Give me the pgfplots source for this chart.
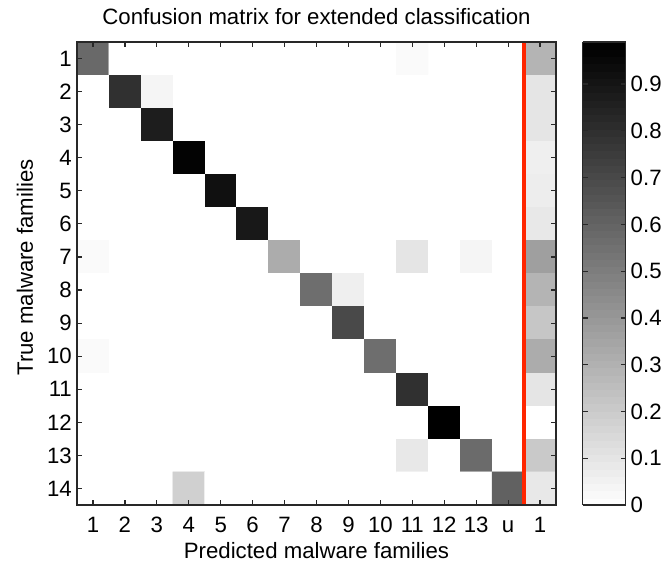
\documentclass[border=0pt]{standalone}
\usepackage{pgfplots}
\pgfplotsset{compat=1.18}
\usepackage{fontspec}
\setmainfont{Liberation Sans}
\definecolor{redline}{RGB}{255,38,0}
\definecolor{frame}{RGB}{40,40,40}
\begin{document}
\begin{tikzpicture}[font=\fontsize{22.2}{26}\selectfont]
\path[use as bounding box] (0,0) rectangle (662pt,562pt);
\begin{axis}[
  at={(77pt,57pt)}, anchor=south west,
  scale only axis, width=479pt, height=463pt,
  xmin=0.5, xmax=15.5, ymin=0.5, ymax=14.5,
  y dir=reverse,
  axis on top,
  enlargelimits=false,
  /pgf/number format/assume math mode=true,
  xtick={1,...,15},
  xticklabels={1,2,3,4,5,6,7,8,9,10,11,12,13,u,1},
  ytick={1,...,14},
  tick align=inside,
  major tick length=5pt,
  axis line style={line width=1.3pt, frame},
  every tick/.style={line width=1.2pt, frame},
  xticklabel style={anchor=base, inner sep=0pt, yshift=-27.5pt},
  yticklabel style={anchor=east, inner sep=0pt, xshift=-5pt},
  title={Confusion matrix for extended classification},
  title style={at={(axis description cs:0.5,1)}, anchor=base, yshift=12pt, inner sep=0pt},
  xlabel={Predicted malware families},
  xlabel style={at={(axis description cs:0.5,0)}, anchor=base, yshift=-53.5pt, inner sep=0pt},
  ylabel={True malware families},
  ylabel style={at={(axis description cs:-0.0919,0.513)}, anchor=base, inner sep=0pt},
  colormap={revgray}{gray(0cm)=(1); gray(1cm)=(0)},
  point meta min=0, point meta max=0.99,
  colorbar sampled,
  colorbar style={
    at={(parent axis.north east)}, anchor=north west, xshift=18pt,
    scale only axis, width=43pt, height=463pt,
    samples=65,
    ytick={0,0.1,0.2,0.3,0.4,0.5,0.6,0.7,0.8,0.9},
    ytick pos=both,
    yticklabel pos=right,
    yticklabel style={anchor=west, inner sep=0pt, xshift=5pt, /pgf/number format/assume math mode=true},
    axis line style={line width=1.2pt, frame},
    every tick/.style={line width=1.2pt, frame},
    major tick length=5pt,
    tick align=inside,
  },
]
\addplot[matrix plot*, mesh/cols=15, point meta=explicit] table[row sep=\\, meta=c] {
x y c \\
1 1 0.58 \\ 2 1 0 \\ 3 1 0 \\ 4 1 0 \\ 5 1 0 \\ 6 1 0 \\ 7 1 0 \\ 8 1 0 \\ 9 1 0 \\ 10 1 0 \\ 11 1 0.02 \\ 12 1 0 \\ 13 1 0 \\ 14 1 0 \\ 15 1 0.29 \\
1 2 0 \\ 2 2 0.80 \\ 3 2 0.04 \\ 4 2 0 \\ 5 2 0 \\ 6 2 0 \\ 7 2 0 \\ 8 2 0 \\ 9 2 0 \\ 10 2 0 \\ 11 2 0 \\ 12 2 0 \\ 13 2 0 \\ 14 2 0 \\ 15 2 0.10 \\
1 3 0 \\ 2 3 0 \\ 3 3 0.87 \\ 4 3 0 \\ 5 3 0 \\ 6 3 0 \\ 7 3 0 \\ 8 3 0 \\ 9 3 0 \\ 10 3 0 \\ 11 3 0 \\ 12 3 0 \\ 13 3 0 \\ 14 3 0 \\ 15 3 0.10 \\
1 4 0 \\ 2 4 0 \\ 3 4 0 \\ 4 4 0.97 \\ 5 4 0 \\ 6 4 0 \\ 7 4 0 \\ 8 4 0 \\ 9 4 0 \\ 10 4 0 \\ 11 4 0 \\ 12 4 0 \\ 13 4 0 \\ 14 4 0 \\ 15 4 0.06 \\
1 5 0 \\ 2 5 0 \\ 3 5 0 \\ 4 5 0 \\ 5 5 0.92 \\ 6 5 0 \\ 7 5 0 \\ 8 5 0 \\ 9 5 0 \\ 10 5 0 \\ 11 5 0 \\ 12 5 0 \\ 13 5 0 \\ 14 5 0 \\ 15 5 0.07 \\
1 6 0 \\ 2 6 0 \\ 3 6 0 \\ 4 6 0 \\ 5 6 0 \\ 6 6 0.89 \\ 7 6 0 \\ 8 6 0 \\ 9 6 0 \\ 10 6 0 \\ 11 6 0 \\ 12 6 0 \\ 13 6 0 \\ 14 6 0 \\ 15 6 0.09 \\
1 7 0.02 \\ 2 7 0 \\ 3 7 0 \\ 4 7 0 \\ 5 7 0 \\ 6 7 0 \\ 7 7 0.32 \\ 8 7 0 \\ 9 7 0 \\ 10 7 0 \\ 11 7 0.10 \\ 12 7 0 \\ 13 7 0.04 \\ 14 7 0 \\ 15 7 0.37 \\
1 8 0 \\ 2 8 0 \\ 3 8 0 \\ 4 8 0 \\ 5 8 0 \\ 6 8 0 \\ 7 8 0 \\ 8 8 0.56 \\ 9 8 0.06 \\ 10 8 0 \\ 11 8 0 \\ 12 8 0 \\ 13 8 0 \\ 14 8 0 \\ 15 8 0.29 \\
1 9 0 \\ 2 9 0 \\ 3 9 0 \\ 4 9 0 \\ 5 9 0 \\ 6 9 0 \\ 7 9 0 \\ 8 9 0 \\ 9 9 0.70 \\ 10 9 0 \\ 11 9 0 \\ 12 9 0 \\ 13 9 0 \\ 14 9 0 \\ 15 9 0.22 \\
1 10 0.02 \\ 2 10 0 \\ 3 10 0 \\ 4 10 0 \\ 5 10 0 \\ 6 10 0 \\ 7 10 0 \\ 8 10 0 \\ 9 10 0 \\ 10 10 0.56 \\ 11 10 0 \\ 12 10 0 \\ 13 10 0 \\ 14 10 0 \\ 15 10 0.32 \\
1 11 0 \\ 2 11 0 \\ 3 11 0 \\ 4 11 0 \\ 5 11 0 \\ 6 11 0 \\ 7 11 0 \\ 8 11 0 \\ 9 11 0 \\ 10 11 0 \\ 11 11 0.80 \\ 12 11 0 \\ 13 11 0 \\ 14 11 0 \\ 15 11 0.10 \\
1 12 0 \\ 2 12 0 \\ 3 12 0 \\ 4 12 0 \\ 5 12 0 \\ 6 12 0 \\ 7 12 0 \\ 8 12 0 \\ 9 12 0 \\ 10 12 0 \\ 11 12 0 \\ 12 12 0.99 \\ 13 12 0 \\ 14 12 0 \\ 15 12 0 \\
1 13 0 \\ 2 13 0 \\ 3 13 0 \\ 4 13 0 \\ 5 13 0 \\ 6 13 0 \\ 7 13 0 \\ 8 13 0 \\ 9 13 0 \\ 10 13 0 \\ 11 13 0.09 \\ 12 13 0 \\ 13 13 0.57 \\ 14 13 0 \\ 15 13 0.21 \\
1 14 0 \\ 2 14 0 \\ 3 14 0 \\ 4 14 0.18 \\ 5 14 0 \\ 6 14 0 \\ 7 14 0 \\ 8 14 0 \\ 9 14 0 \\ 10 14 0 \\ 11 14 0 \\ 12 14 0 \\ 13 14 0 \\ 14 14 0.61 \\ 15 14 0.09 \\
};
\addplot[redline, line width=4.3pt, point meta=none, forget plot] coordinates {(14.5,0.5) (14.5,14.5)};
\end{axis}
\end{tikzpicture}
\end{document}
